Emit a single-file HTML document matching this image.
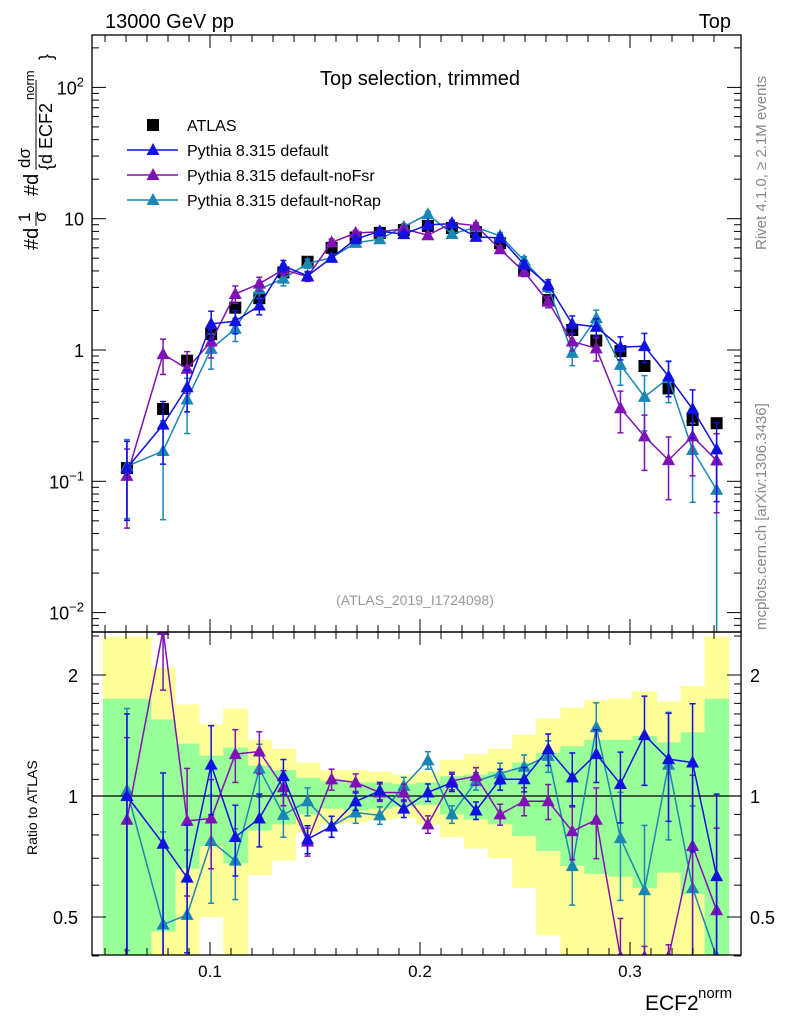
<!DOCTYPE html>
<html><head><meta charset="utf-8"><style>
html,body{margin:0;padding:0;background:#fff;width:786px;height:1024px;overflow:hidden;position:relative;}
svg{display:block;position:absolute;left:0;top:0;font-family:"Liberation Sans",sans-serif;}
</style></head><body>
<svg id="c" width="786" height="1024" xmlns="http://www.w3.org/2000/svg">
<defs>
<clipPath id="cm"><rect x="92" y="35" width="649" height="597"/></clipPath>
<clipPath id="cr"><rect x="92" y="632" width="649" height="323"/></clipPath>
</defs>
<g id="bands" clip-path="url(#cr)"></g>
<g id="main" clip-path="url(#cm)"></g>
<g id="ratio" clip-path="url(#cr)"></g>
<g id="axes"></g>
<text x="105" y="28" font-size="20">13000 GeV pp</text>
<text x="731" y="28" font-size="20" text-anchor="end">Top</text>
<text x="420" y="85" font-size="20" text-anchor="middle">Top selection, trimmed</text>
<text x="415" y="605" font-size="14" fill="#999" text-anchor="middle">(ATLAS_2019_I1724098)</text>
<text transform="translate(766,250) rotate(-90)" font-size="15" fill="#888">Rivet 4.1.0, ≥ 2.1M events</text>
<text transform="translate(766,630) rotate(-90)" font-size="15" fill="#888">mcplots.cern.ch [arXiv:1306.3436]</text>
<g font-size="20">
<text transform="translate(38,250) rotate(-90)">#d</text>
<text transform="translate(30,222) rotate(-90)" font-size="17">1</text>
<text transform="translate(46,222) rotate(-90)" font-size="17">σ</text>
<text transform="translate(38,196) rotate(-90)">#d</text>
<text transform="translate(30,168) rotate(-90)" font-size="17">dσ</text>
<text transform="translate(52,170) rotate(-90)" font-size="18">{d ECF2</text>
<text transform="translate(34,100) rotate(-90)" font-size="13">norm</text>
<text transform="translate(52,60) rotate(-90)" font-size="18">}</text>
<line x1="36" y1="170" x2="36" y2="80" stroke="#000" stroke-width="1"/>
<line x1="36" y1="226" x2="36" y2="212" stroke="#000" stroke-width="1"/>
</g>
<text transform="translate(37,855) rotate(-90)" font-size="14">Ratio to ATLAS</text>
<g><text x="645" y="1010" font-size="21">ECF2</text><text x="698" y="998" font-size="15">norm</text></g>
<g id="legend"></g>
</svg>
<script>
const NS="http://www.w3.org/2000/svg";
const edges=[0.049,0.0719,0.0834,0.0948,0.1063,0.1178,0.1292,0.1407,0.1522,0.1636,0.1751,0.1866,0.198,0.2095,0.2209,0.2324,0.2439,0.2553,0.2668,0.2782,0.2897,0.3012,0.3126,0.3241,0.3355,0.347];
const atlas=[0.126,0.355,0.83,1.32,2.1,2.48,3.9,4.7,6.0,7.2,7.8,8.2,8.8,8.5,7.9,6.5,4.06,2.4,1.42,1.18,0.98,0.755,0.51,0.293,0.277];
const bandGreenUp=[1.745,1.55,1.35,1.26,1.32,1.19,1.16,1.11,1.09,1.08,1.08,1.07,1.08,1.12,1.13,1.15,1.21,1.28,1.33,1.38,1.38,1.41,1.36,1.44,1.745];
const bandGreenLo=[0.3,0.46,0.66,0.75,0.68,0.82,0.85,0.90,0.93,0.92,0.93,0.94,0.95,0.90,0.875,0.85,0.795,0.73,0.67,0.64,0.63,0.59,0.645,0.57,0.3];
const bandYellowUp=[2.49,2.09,1.69,1.51,1.65,1.38,1.31,1.21,1.16,1.16,1.15,1.13,1.15,1.23,1.27,1.31,1.42,1.56,1.66,1.73,1.75,1.82,1.72,1.88,2.49];
const bandYellowLo=[0.3,0.3,0.3,0.50,0.3,0.635,0.69,0.81,0.85,0.86,0.87,0.88,0.85,0.79,0.74,0.70,0.59,0.45,0.3,0.3,0.3,0.3,0.3,0.3,0.3];
const pyDefault=[0.126,0.27,0.52,1.58,1.66,2.18,4.37,3.67,5.04,6.98,8.03,7.63,8.98,9.18,7.27,7.15,4.47,3.14,1.58,1.50,1.05,1.07,0.63,0.355,0.175];
const pyNoFsr=[0.11,0.93,0.72,1.16,2.67,3.2,4.1,3.62,6.6,7.78,7.96,8.36,7.48,9.27,8.85,5.85,3.94,2.33,1.16,1.03,0.36,0.22,0.145,0.22,0.144];
const pyNoRap=[0.13,0.17,0.42,1.02,1.45,2.9,3.5,4.56,5.04,6.55,6.98,8.69,10.8,7.65,8.6,7.4,4.8,3.02,0.95,1.75,0.77,0.44,0.61,0.173,0.086];
const errDefault=[0.6,0.5,0.35,0.25,0.2,0.15,0.1,0.08,0.06,0.05,0.05,0.05,0.05,0.05,0.05,0.06,0.07,0.09,0.15,0.15,0.2,0.25,0.3,0.4,0.6];
const errNoFsr=[0.6,0.3,0.35,0.25,0.15,0.12,0.1,0.08,0.06,0.05,0.05,0.05,0.05,0.05,0.05,0.06,0.08,0.1,0.15,0.2,0.35,0.45,0.5,0.5,0.6];
const errNoRap=[0.6,0.7,0.45,0.3,0.2,0.15,0.12,0.08,0.06,0.06,0.05,0.05,0.05,0.05,0.05,0.06,0.07,0.09,0.2,0.15,0.3,0.45,0.35,0.6,1.0];
const xTicks=[0.1,0.2,0.3];
const yTicks=[2,1,0,-1,-2];
const rTicks=[0.5,1,2];

const clamp=(v,a,b)=>Math.max(a,Math.min(b,v));
const X=v=>210+(v-0.1)*2100;
const Y=v=>350-Math.log10(v)*131.3;
const R=v=>796-Math.log10(v)*402;
const Yc=v=>clamp(Y(v),33,634);
const Rc=v=>clamp(R(v),630,957);
const centers=edges.slice(0,-1).map((e,i)=>(e+edges[i+1])/2);

function mk(tag,attrs,parent){const e=document.createElementNS(NS,tag);for(const k in attrs)e.setAttribute(k,attrs[k]);parent.appendChild(e);return e;}
const gMain=document.getElementById('main'),gRatio=document.getElementById('ratio'),gBands=document.getElementById('bands'),gAx=document.getElementById('axes'),gLeg=document.getElementById('legend');

function band(up,lo,col,name){
  for(let i=0;i<centers.length;i++){
    const y1=Rc(up[i]),y2=Rc(lo[i]);
    const r=mk('rect',{x:X(edges[i]),y:y1,width:X(edges[i+1])-X(edges[i])+0.5,height:y2-y1,fill:col},gBands);
    
    
  }
}
band(bandYellowUp,bandYellowLo,'#ffff99','total-uncertainty-band');
band(bandGreenUp,bandGreenLo,'#99ff99','stat-uncertainty-band');
const l1=mk('line',{x1:92,x2:741,y1:R(1),y2:R(1),stroke:'#000','stroke-width':1.3},gRatio);



function tri(x,y,col,parent){return mk('path',{d:`M${x},${y-7}L${x+6.5},${y+5}L${x-6.5},${y+5}Z`,fill:col},parent);}
function series(vals,err,col,name){
  const gm=mk('g',{},gMain);
  const gr=mk('g',{},gRatio);
  mk('polyline',{points:centers.map((c,i)=>X(c)+','+Yc(vals[i])).join(' '),fill:'none',stroke:col,'stroke-width':1.5},gm);
  mk('polyline',{points:centers.map((c,i)=>X(c)+','+Rc(vals[i]/atlas[i])).join(' '),fill:'none',stroke:col,'stroke-width':1.5},gr);
  centers.forEach((c,i)=>{
    const x=X(c),v=vals[i],e=err[i],lo=Math.max(v*(1-e),1e-4),hi=v*(1+e);
    [[gm,Yc],[gr,v2=>Rc(v2/atlas[i])]].forEach(([g,f])=>{
      mk('line',{x1:x,x2:x,y1:f(lo),y2:f(hi),stroke:col,'stroke-width':1.5},g);
      mk('line',{x1:x-3,x2:x+3,y1:f(lo),y2:f(lo),stroke:col,'stroke-width':1.5},g);
      mk('line',{x1:x-3,x2:x+3,y1:f(hi),y2:f(hi),stroke:col,'stroke-width':1.5},g);
    });
    const t=tri(x,Yc(v),col,gm);
    
    
    const t2=tri(x,Rc(v/atlas[i]),col,gr);
    
    
  });
}
const ga=mk('g',{},gMain);


centers.forEach((c,i)=>{
  const x=X(c),v=atlas[i];
  const s=mk('rect',{x:x-6,y:Y(v)-6,width:12,height:12,fill:'#000'},ga);
  
  
});
series(pyNoRap,errNoRap,'#1a86b4','pythia-default-norap');
series(pyNoFsr,errNoFsr,'#7f12b4','pythia-default-nofsr');
series(pyDefault,errDefault,'#1212e0','pythia-default');

const legItems=[['ATLAS','#000','sq'],['Pythia 8.315 default','#1212e0','tri'],['Pythia 8.315 default-noFsr','#7f12b4','tri'],['Pythia 8.315 default-noRap','#1a86b4','tri']];
legItems.forEach((it,k)=>{
  const y=125+k*25;
  const g=mk('g',{},gLeg);
  
  
  if(it[2]==='sq'){mk('rect',{x:147,y:y-6,width:12,height:12,fill:'#000'},g);}
  else{mk('line',{x1:127,x2:178,y1:y,y2:y,stroke:it[1],'stroke-width':1.5},g);tri(153,y,it[1],g);}
  const t=mk('text',{x:187,y:y+6,'font-size':16},g);t.textContent=it[0];
});

mk('rect',{x:92,y:35,width:649,height:597,fill:'none',stroke:'#000','stroke-width':1.3},gAx);
mk('rect',{x:92,y:632,width:649,height:323,fill:'none',stroke:'#000','stroke-width':1.3},gAx);
function ln(a,b,c,d){mk('line',{x1:a,y1:b,x2:c,y2:d,stroke:'#000','stroke-width':1},gAx);}
for(let k=5;k<=34;k++){
  const v=k/100,x=X(v);if(x<92||x>741)continue;
  const L=(k%10===0)?13:7;
  ln(x,632,x,632-L);ln(x,35,x,35+L);ln(x,955,x,955-L);ln(x,632,x,632+L);
}
xTicks.forEach(v=>{const t=mk('text',{x:X(v),y:977,'font-size':17,'text-anchor':'middle'},gAx);t.textContent=v.toFixed(1);
  });
for(let d=-3;d<=2;d++){for(let m=1;m<=9;m++){const v=m*Math.pow(10,d),y=Y(v);if(y<35||y>632)continue;const L=m===1?14:7;ln(92,y,92+L,y);ln(741,y,741-L,y);}}
yTicks.forEach(p=>{
  const y=Y(Math.pow(10,p));
  const t=mk('text',{x:84,y:y+7,'font-size':18,'text-anchor':'end'},gAx);
  
  if(p===1)t.textContent='10';else if(p===0)t.textContent='1';
  else{t.textContent='10';const s=mk('tspan',{dy:-8,'font-size':13},t);s.textContent=(p<0?'\u2212':'')+Math.abs(p);}
});
const rMinor=[0.4,0.6,0.7,0.8,0.9,1.1,1.2,1.3,1.4,1.5,1.6,1.7,1.8,1.9,2.5];
rMinor.forEach(v=>{const y=R(v);ln(92,y,99,y);ln(741,y,734,y);});
rTicks.forEach(v=>{const y=R(v);ln(92,y,106,y);ln(741,y,727,y);
  const t=mk('text',{x:78,y:y+7,'font-size':18,'text-anchor':'end'},gAx);t.textContent=String(v);
  
  const t2=mk('text',{x:750,y:y+7,'font-size':18},gAx);t2.textContent=String(v);
  });
</script>
</body></html>
